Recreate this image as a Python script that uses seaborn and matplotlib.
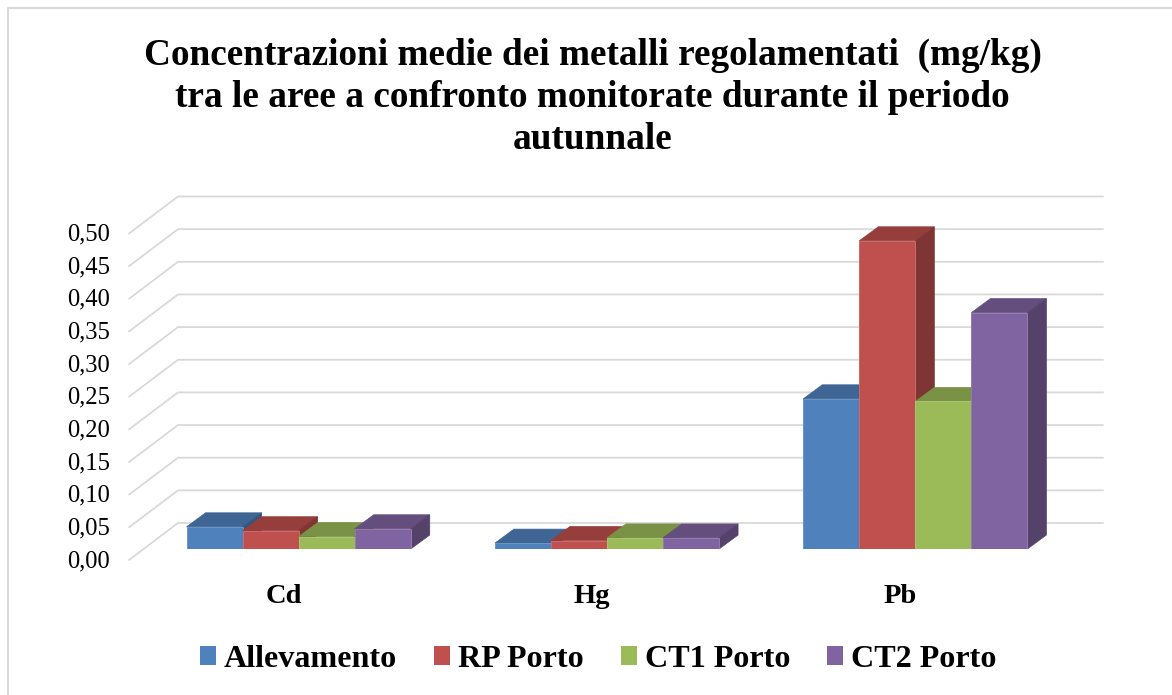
import matplotlib
matplotlib.use("Agg")
import matplotlib.pyplot as plt
from matplotlib.colors import to_rgb
from matplotlib.lines import Line2D
from matplotlib.patches import Polygon
from matplotlib.transforms import Affine2D, IdentityTransform
import pandas as pd
import seaborn as sns

metals = ["Cd", "Hg", "Pb"]
series_names = ["Allevamento", "RP Porto", "CT1 Porto", "CT2 Porto"]
allevamento = [0.034, 0.009, 0.230]
rp_porto = [0.028, 0.013, 0.472]
ct1_porto = [0.019, 0.017, 0.226]
ct2_porto = [0.031, 0.017, 0.362]
colors = ["#4F81BD", "#C0504D", "#9BBB59", "#8064A2"]
y_ticks = [0.00, 0.05, 0.10, 0.15, 0.20, 0.25, 0.30, 0.35, 0.40, 0.45, 0.50]
y_labels = ["0,00", "0,05", "0,10", "0,15", "0,20", "0,25", "0,30", "0,35", "0,40", "0,45", "0,50"]
title = ("Concentrazioni medie dei metalli regolamentati  (mg/kg)\n"
         "tra le aree a confronto monitorate durante il periodo\nautunnale")

W, H = 1172, 695
sns.set_theme(style="white")
plt.rcParams["font.family"] = ["Liberation Serif", "DejaVu Serif"]

df = pd.DataFrame({
    "metal": metals * 4,
    "series": [s for s in series_names for _ in metals],
    "value": allevamento + rp_porto + ct1_porto + ct2_porto,
})

fig = plt.figure(figsize=(W / 100, H / 100), dpi=100, facecolor="white")
# the axes is the plane of the front face of the bars
left, right, base, top = 144.5, 1069.5, 549.0, 222.5
ax = fig.add_axes([left / W, 1 - base / H, (right - left) / W, (base - top) / H])
sns.barplot(data=df, x="metal", y="value", hue="series", hue_order=series_names,
            palette=colors, width=0.727, gap=0, saturation=1, errorbar=None, ax=ax, zorder=5)
ax.set_xlim(-0.5, 2.5)
ax.set_ylim(0, 0.5)
ax.set_xlabel("")
ax.set_ylabel("")
for s in ax.spines.values():
    s.set_visible(False)
ax.patch.set_visible(False)

# pixel offsets of the wall planes relative to the bar plane
BACK = (33.5, 26.0)
FRONT = (-15.5, -11.0)
DEPTH = (19.0, 14.0)
GRID = "#D9D9D9"
identity = IdentityTransform()

for v in y_ticks:
    p0 = ax.transData.transform((-0.5, v))
    p1 = ax.transData.transform((2.5, v))
    xs = [p0[0] + FRONT[0], p0[0] + BACK[0], p1[0] + BACK[0]]
    ys = [p0[1] + FRONT[1], p0[1] + BACK[1], p1[1] + BACK[1]]
    ax.add_line(Line2D(xs, ys, transform=identity, color=GRID, lw=1.3, zorder=0.5,
                       clip_on=False))


def shade(col, k):
    return tuple(c * k for c in to_rgb(col))


bars = []
for color, container in zip(colors, ax.containers):
    for bar in container:
        bars.append((bar.get_x(), bar, color))
bars.sort(key=lambda t: t[0])

z = 5
for _, bar, color in bars:
    x0, y0 = ax.transData.transform((bar.get_x(), 0))
    x1, y1 = ax.transData.transform((bar.get_x() + bar.get_width(), bar.get_height()))
    dx, dy = DEPTH
    top_face = Polygon([(x0, y1), (x1, y1), (x1 + dx, y1 + dy), (x0 + dx, y1 + dy)],
                       closed=True, transform=identity, fc=shade(color, 0.78),
                       ec=shade(color, 0.78), lw=0.5, zorder=z, clip_on=False)
    side_face = Polygon([(x1, y0), (x1 + dx, y0 + dy), (x1 + dx, y1 + dy), (x1, y1)],
                        closed=True, transform=identity, fc=shade(color, 0.66),
                        ec=shade(color, 0.66), lw=0.5, zorder=z + 0.1, clip_on=False)
    ax.add_patch(top_face)
    ax.add_patch(side_face)
    bar.set_zorder(z + 0.2)
    bar.set_edgecolor(tuple(0.85 * c + 0.15 for c in to_rgb(color)))
    bar.set_linewidth(0.7)
    z += 1

ax.set_yticks(y_ticks)
ax.set_yticklabels(y_labels, fontsize=17.7, color="black")
ax.tick_params(axis="y", length=0, pad=25)
ax.set_xticks(range(len(metals)))
ax.set_xticklabels(metals, fontsize=20.5, fontweight="bold", color="black")
ax.tick_params(axis="x", length=0, pad=25)
for lab in ax.get_yticklabels():
    lab.set_transform(lab.get_transform() + Affine2D().translate(0, FRONT[1] + 1.5))
for lab in ax.get_xticklabels():
    lab.set_transform(lab.get_transform() + Affine2D().translate(-15, 0))

handles, labels = ax.get_legend_handles_labels()
ax.get_legend().remove()
for h in handles:
    h.set_edgecolor("none")
fig.legend(handles, labels, ncol=4, loc="center", bbox_to_anchor=(598.5 / W, 1 - 659.5 / H),
           frameon=False, prop={"size": 23.1, "weight": "bold"}, labelcolor="black",
           handlelength=0.5, handleheight=0.5, handletextpad=0.25, columnspacing=1.15)

fig.text(592.5 / W, 1 - 97.5 / H, title, ha="center", va="center", fontsize=26.8,
         fontweight="bold", color="black", linespacing=1.26)

# chart frame: only its top and left edges fall inside the picture
fig.add_artist(Line2D([8, 8, W], [0, H - 8, H - 8], transform=identity, color=GRID, lw=1.5,
                      zorder=0.2))

fig.savefig("out.png", dpi=100)
